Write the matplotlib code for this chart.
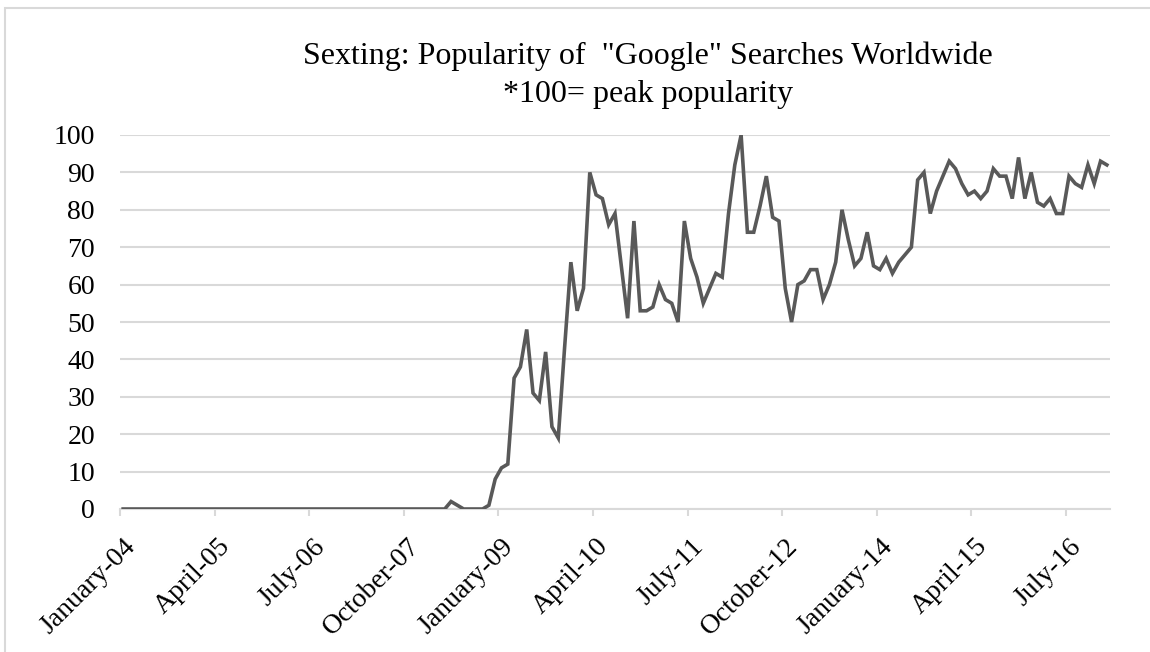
import numpy as np
import matplotlib
matplotlib.use("Agg")
import matplotlib.pyplot as plt
from matplotlib.patches import Rectangle
from matplotlib.transforms import ScaledTranslation

plt.rcParams["font.family"] = ["Liberation Serif", "DejaVu Serif"]

# monthly search interest, Jan 2004 .. Jan 2017 (100 = peak)
popularity = [0] * 52 + [
    2, 1, 0, 0, 0, 0, 1, 8, 11, 12,          # 2008-05 .. 2009-02
    35, 38, 48, 31, 29, 42, 22, 19, 43, 66,  # 2009-03 .. 2009-12
    53, 59, 90, 84, 83, 76, 79, 65, 51, 77,  # 2010-01 .. 2010-10
    53, 53, 54, 60, 56, 55, 50, 77, 67, 62,  # 2010-11 .. 2011-08
    55, 59, 63, 62, 79, 92, 100, 74, 74, 81, # 2011-09 .. 2012-06
    89, 78, 77, 59, 50, 60, 61, 64, 64, 56,  # 2012-07 .. 2013-04
    60, 66, 80, 72, 65, 67, 74, 65, 64, 67,  # 2013-05 .. 2014-02
    63, 66, 68, 70, 88, 90, 79, 85, 89, 93,  # 2014-03 .. 2014-12
    91, 87, 84, 85, 83, 85, 91, 89, 89, 83,  # 2015-01 .. 2015-10
    94, 83, 90, 82, 81, 83, 79, 79, 89, 87,  # 2015-11 .. 2016-08
    86, 92, 87, 93, 92,                      # 2016-09 .. 2017-01
]
tick_labels = ["January-04", "April-05", "July-06", "October-07", "January-09",
               "April-10", "July-11", "October-12", "January-14", "April-15",
               "July-16"]
tick_step = 15  # months between labelled ticks

title_1 = 'Sexting: Popularity of  "Google" Searches Worldwide'
title_2 = '*100= peak popularity'

W, H = 1150, 652
fig = plt.figure(figsize=(W / 100, H / 100), dpi=100)
fig.patch.set_facecolor("white")

# chart-area border (runs off the right and bottom edges)
fig.patches.append(Rectangle((5 / W, -0.05), 1.1, 1 - 8 / H + 0.05,
                             transform=fig.transFigure, fill=False,
                             edgecolor="#d9d9d9", linewidth=1.5))

ax = fig.add_axes([120 / W, (H - 509) / H, (1110 - 120) / W, (509 - 135) / H])
months = np.arange(len(popularity))
ax.plot(months, popularity, color="#595959", linewidth=2.6, solid_joinstyle="miter", zorder=3)

ax.set_ylim(0, 100)
ax.set_yticks(np.arange(0, 101, 10))
ax.set_xlim(-0.5, len(popularity) - 0.5)
# date ticks sit half a month left of the monthly points
ax.set_xticks(np.arange(0, len(popularity), tick_step)[:len(tick_labels)] - 0.5)
ax.set_xticklabels(tick_labels, rotation=45, ha="right", va="top",
                   rotation_mode="anchor")

ax.grid(axis="y", color="#d9d9d9", linewidth=1.5, zorder=0)
for side in ["left", "right", "top"]:
    ax.spines[side].set_visible(False)
ax.spines["bottom"].set_color("#d9d9d9")
ax.spines["bottom"].set_linewidth(1.5)
ax.spines["bottom"].set_zorder(1)

ax.tick_params(axis="y", length=0, pad=18, labelsize=20)
ax.tick_params(axis="x", length=5, width=1.5, color="#d9d9d9", pad=13, labelsize=20)

# nudge the slanted labels a little to the right (after tick_params, which resets transforms)
shift = ScaledTranslation(0.03, 0, fig.dpi_scale_trans)
for lab in ax.get_xticklabels():
    lab.set_transform(lab.get_transform() + shift)

fig.text(648 / W, 1 - 64 / H, title_1, ha="center", va="baseline", fontsize=23)
fig.text(648 / W, 1 - 102 / H, title_2, ha="center", va="baseline", fontsize=23)

fig.savefig("out.png", dpi=100)
